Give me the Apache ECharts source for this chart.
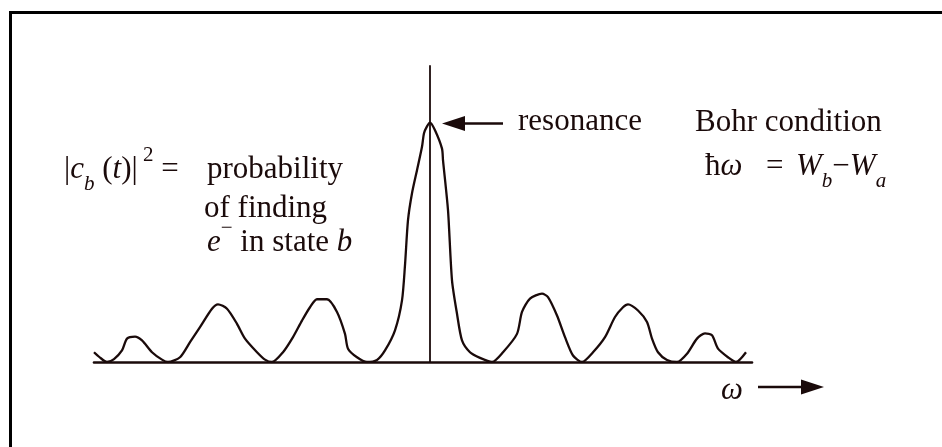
<!DOCTYPE html>
<html><head><meta charset="utf-8">
<script src="https://cdn.jsdelivr.net/npm/echarts@6/dist/echarts.min.js"></script>
<style>html,body{margin:0;padding:0;background:#fff}#c{width:942px;height:447px}</style>
</head><body><div id="c"></div>
<script>
// ω (arbitrary units, 0 = resonance) and |c_b(t)|^2 (arbitrary units)
const omega = [-33.6,-33.0,-32.3,-31.6,-30.8,-30.3,-29.5,-28.8,-27.8,-26.8,-26.2,
  -25.0,-24.0,-23.0,-21.8,-21.2,-20.3,-19.3,-18.5,-17.3,-16.5,-15.8,
  -14.7,-13.7,-12.8,-12.0,-11.3,-10.3,-9.3,-8.5,-8.2,-7.3,-6.3,
  -5.3,-4.5,-3.5,-2.8,-2.5,-2.2,-1.8,-1.3,-0.8,-0.6,-0.3,0,0.5,1.2,1.3,1.8,2.2,2.7,3.2,4.0,5.0,6.2,
  7.3,8.7,9.2,10.0,11.2,11.8,12.7,13.5,14.3,15.2,
  16.3,17.5,18.5,19.3,19.8,20.8,21.7,22.2,22.8,23.7,24.7,
  25.7,26.7,27.5,28.2,28.8,29.8,30.6,31.6];
const probability = [3.3,1.5,0,1.0,3.9,7.9,8.6,7.3,3.3,0.8,0,
  1.6,6.7,11.8,18.0,19.5,18.0,12.9,7.9,3.3,0.8,0,
  3.3,8.4,14.0,18.5,21.2,21.2,16.9,9.5,4.5,1.6,0,
  0.7,3.9,10.7,20.8,32.7,47.9,57.0,64.8,72.7,77.3,79.6,80.9,78.3,72.1,68.2,51.3,27.6,16.3,7.3,3.3,1.4,0,
  3.3,9.5,16.9,21.4,23.1,21.9,15.7,8.4,2.2,0,
  3.3,8.4,15.2,18.5,19.5,17.4,13.5,7.9,3.3,0.7,0,
  2.8,7.9,9.7,9.0,4.5,1.6,0,3.3];
const xRange = [-33.6, 32.2];
const yRange = [0, 100];

const INK = '#1a0a0a';
const SERIF = '"Liberation Serif","Times New Roman",serif';
const FS = 31, SS = 21, LH = 50;

const rich = {
  n: {fontFamily: SERIF, fontSize: FS, lineHeight: LH, verticalAlign: 'middle', fill: INK},
  i: {fontFamily: SERIF, fontSize: FS, fontStyle: 'italic', lineHeight: LH, verticalAlign: 'middle', fill: INK},
  sub: {fontFamily: SERIF, fontSize: SS, fontStyle: 'italic', lineHeight: SS, verticalAlign: 'bottom', fill: INK},
  sup: {fontFamily: SERIF, fontSize: SS, lineHeight: SS, verticalAlign: 'top', fill: INK}
};

const chart = echarts.init(document.getElementById('c'), null, {renderer: 'canvas'});
const data = omega.map((w, k) => [w, probability[k]]);

chart.setOption({
  animation: false,
  backgroundColor: '#ffffff',
  grid: {left: 94, right: 190, top: 66, bottom: 85},
  xAxis: {
    type: 'value', min: xRange[0], max: xRange[1],
    axisLine: {show: true, onZero: true, lineStyle: {color: INK, width: 2.6}},
    axisTick: {show: false}, axisLabel: {show: false}, splitLine: {show: false}
  },
  yAxis: {
    type: 'value', min: yRange[0], max: yRange[1],
    axisLine: {show: true, onZero: true, lineStyle: {color: INK, width: 1.8}},
    axisTick: {show: false}, axisLabel: {show: false}, splitLine: {show: false}
  },
  series: [{
    type: 'line', data: data, smooth: 0.25, showSymbol: false, silent: true,
    lineStyle: {color: INK, width: 2.3}
  }]
});

function txt(x, y, text) {
  return {type: 'text', x: x, y: y, z: 10, silent: true,
    style: {text: text, rich: rich, fill: INK, fontFamily: SERIF, fontSize: FS,
      align: 'left', verticalAlign: 'middle'}};
}

// resonance arrow points at the peak
let pi = 0;
probability.forEach((v, k) => { if (v > probability[pi]) pi = k; });
const peak = chart.convertToPixel({gridIndex: 0}, [omega[pi], probability[pi]]);
const tipX = peak[0] + 12, tipY = peak[1] + 1;

chart.setOption({
  graphic: [
    {type: 'rect', silent: true, shape: {x: 10.5, y: 12.5, width: 1000, height: 600},
      style: {fill: null, stroke: '#000', lineWidth: 3}},
    {type: 'polyline', silent: true, shape: {points: [[tipX + 18, tipY], [tipX + 61, tipY]]},
      style: {stroke: INK, lineWidth: 2.6}},
    {type: 'polygon', silent: true, shape: {points: [[tipX, tipY], [tipX + 23, tipY - 7.5], [tipX + 23, tipY + 7.5]]},
      style: {fill: INK}},
    txt(518, 122, '{n|resonance}'),
    txt(695, 123, '{n|Bohr condition}'),
    txt(705, 167, '{n|ħ}{i|ω}'),
    txt(766, 167, '{n|=}'),
    txt(796, 167, '{i|W}{sub|b}{n|−}{i|W}{sub|a}'),
    txt(64, 170, '{n||}{i|c}{sub|b}{n| (}{i|t}{n|)|}{sup| 2}{n| =}'),
    txt(207, 170, '{n|probability}'),
    txt(204, 209, '{n|of finding}'),
    txt(207, 243, '{i|e}{sup|−}{n| in state }{i|b}'),
    txt(721, 391, '{i|ω}'),
    {type: 'polyline', silent: true, shape: {points: [[758, 387], [805, 387]]},
      style: {stroke: INK, lineWidth: 2.6}},
    {type: 'polygon', silent: true, shape: {points: [[824, 387], [801, 379.5], [801, 394.5]]},
      style: {fill: INK}}
  ]
});
</script>
</body></html>
